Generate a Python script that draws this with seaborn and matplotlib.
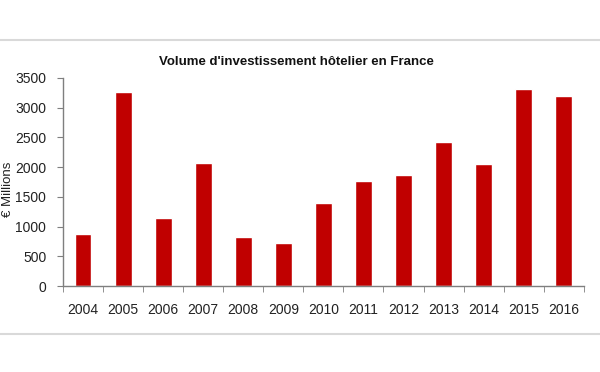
import numpy as np
import pandas as pd
import seaborn as sns
import matplotlib.pyplot as plt
from matplotlib.lines import Line2D

years = ['2004', '2005', '2006', '2007', '2008', '2009', '2010',
         '2011', '2012', '2013', '2014', '2015', '2016']
volumes = [880, 3260, 1150, 2070, 820, 720, 1390, 1770, 1870, 2420, 2050, 3310, 3200]
y_ticks = [0, 500, 1000, 1500, 2000, 2500, 3000, 3500]

df = pd.DataFrame({'annee': years, 'volume': volumes})

sns.set_style('white')
plt.rcParams['font.family'] = ['Liberation Sans', 'DejaVu Sans']

fig = plt.figure(figsize=(6, 3.72), dpi=100)
ax = fig.add_axes([0.105, 0.231, 0.868, 0.56])

sns.barplot(data=df, x='annee', y='volume', color='#c00000', saturation=1,
            width=0.42, ax=ax)

ax.set_ylim(0, 3500)
ax.set_yticks(y_ticks)
ax.set_xlim(-0.5, len(years) - 0.5)
ax.set_xlabel('')
ax.set_ylabel('')

for s in ['top', 'right']:
    ax.spines[s].set_visible(False)
for s in ['left', 'bottom']:
    ax.spines[s].set_color('#7f7f7f')
    ax.spines[s].set_linewidth(1)

# ticks between categories on x
ax.set_xticks(np.arange(len(years)))
ax.set_xticks(np.arange(len(years) + 1) - 0.5, minor=True)
ax.tick_params(axis='x', which='major', length=0, labelsize=10, pad=12, colors='#222222')
ax.tick_params(axis='x', which='minor', length=4, color='#7f7f7f', direction='out', bottom=True)
ax.tick_params(axis='y', length=4, color='#7f7f7f', direction='out', left=True,
               labelsize=10, pad=8, colors='#222222')

fig.text(0.494, 0.834, "Volume d'investissement hôtelier en France",
         ha='center', va='center', fontsize=9.5, fontweight='bold', color='#111111')
fig.text(0.014, 0.49, '€ Millions', rotation=90, ha='center', va='center',
         fontsize=9.5, color='#222222')

# grey frame lines
fig.add_artist(Line2D([0, 1], [1 - 40 / 372] * 2, color='#d9d9d9', lw=1.5))
fig.add_artist(Line2D([0, 1], [1 - 334 / 372] * 2, color='#d9d9d9', lw=1.5))

fig.savefig('out.png', dpi=100)
